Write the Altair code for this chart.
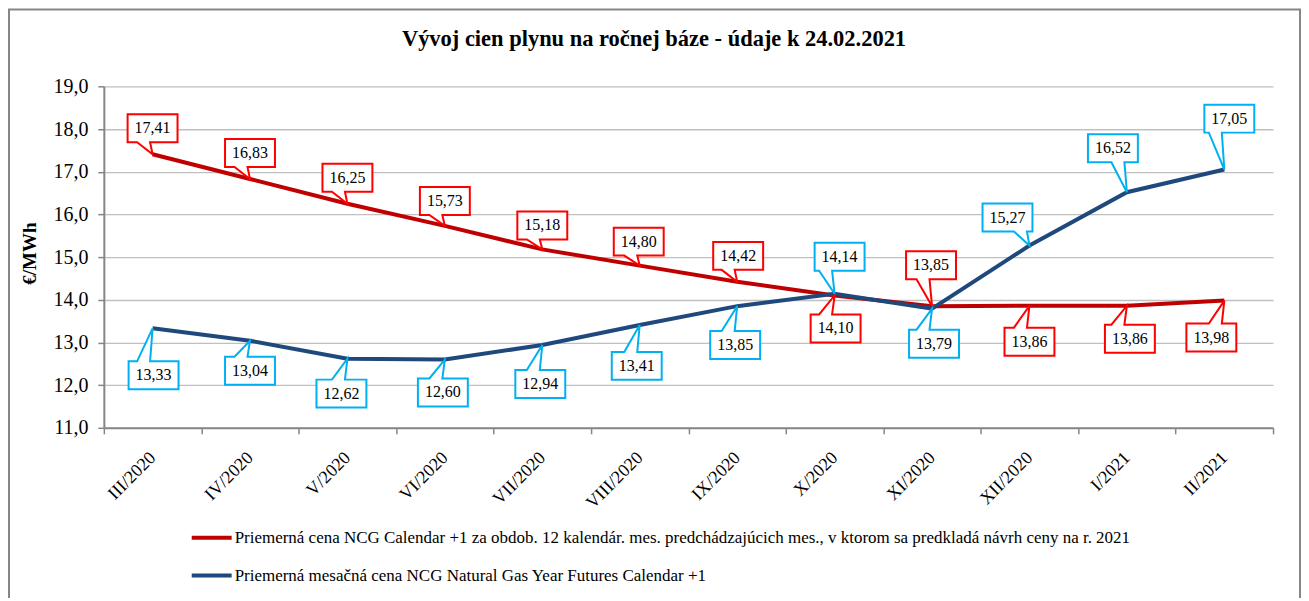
import altair as alt
import pandas as pd

# ---------------- data ----------------
months = ["III/2020", "IV/2020", "V/2020", "VI/2020", "VII/2020", "VIII/2020",
          "IX/2020", "X/2020", "XI/2020", "XII/2020", "I/2021", "II/2021"]
red_vals = [17.41, 16.83, 16.25, 15.73, 15.18, 14.80, 14.42, 14.10, 13.85, 13.86, 13.86, 13.98]
blue_vals = [13.33, 13.04, 12.62, 12.60, 12.94, 13.41, 13.85, 14.14, 13.79, 15.27, 16.52, 17.05]
red_name = ("Priemerná cena NCG Calendar +1 za obdob. 12 kalendár. mes. predchádzajúcich mes., "
            "v ktorom sa predkladá návrh ceny na r. 2021")
blue_name = "Priemerná mesačná cena NCG Natural Gas Year Futures Calendar +1"
y_ticks = [11, 12, 13, 14, 15, 16, 17, 18, 19]
TITLE = "Vývoj cien plynu na ročnej báze - údaje k 24.02.2021"
Y_TITLE = "€/MWh"

# callout box placement (pixel offset of box centre from its point) - layout only
red_off = [(0, -26), (0, -26), (0, -26), (0, -25), (0, -24), (-1, -24),
           (1, -26), (1, 33), (-1, -41), (0, 36), (3, 33), (-13, 37)]
blue_off = [(1, 47), (0, 30), (-6, 35), (-2, 33), (-2, 39), (-3, 41),
            (-2, 39), (5, -37), (2, 35), (-22, -28), (-14, -44), (5, -51)]

# ---------------- style ----------------
W, H = 1171, 342
FONT = "Liberation Serif"
RED_LINE, BLUE_LINE = "#C00000", "#1F497D"
RED_BOX, BLUE_BOX = "#FF0000", "#00B0F0"
AXIS_GREY = "#868686"
UNIT = 50.0  # custom symbol scale: sqrt(size)/2 with size 10000


def callout_path(dx, dy, hw=25, hh=14):
    tx = -dx
    bc = max(-hw + 8, min(hw - 8, tx - 9))
    b1, b2 = bc - 6.5, bc + 6.5
    if dy < 0:
        e = dy + hh
        pts = [(dx - hw, dy - hh), (dx + hw, dy - hh), (dx + hw, e), (dx + b2, e),
               (0, 0), (dx + b1, e), (dx - hw, e)]
    else:
        e = dy - hh
        pts = [(dx - hw, e), (dx + b1, e), (0, 0), (dx + b2, e), (dx + hw, e),
               (dx + hw, dy + hh), (dx - hw, dy + hh)]
    return "M" + " L".join(f"{x / UNIT:.4f},{y / UNIT:.4f}" for x, y in pts) + " Z"


rows = []
for name, vals, offs, box in [(red_name, red_vals, red_off, RED_BOX),
                              (blue_name, blue_vals, blue_off, BLUE_BOX)]:
    for i, (m, v, (dx, dy)) in enumerate(zip(months, vals, offs)):
        rows.append({"idx": i, "month": m, "series": name, "value": v,
                     "label": f"{v:.2f}".replace(".", ","),
                     "path": callout_path(dx, dy), "box": box, "dx": dx, "dy": dy})
df = pd.DataFrame(rows)

x_enc = alt.X("month:N", sort=months, bandPosition=0.5,
              scale=alt.Scale(type="band", paddingInner=0, paddingOuter=0),
              axis=alt.Axis(title=None, labelAngle=315, labelAlign="right", labelBaseline="middle",
                            labelFont=FONT, labelFontSize=18, labelColor="black", labelPadding=21,
                            tickBand="extent", tickSize=6, tickColor=AXIS_GREY, tickWidth=1.5,
                            domainColor=AXIS_GREY, domainWidth=2, grid=False))
y_enc = alt.Y("value:Q", scale=alt.Scale(domain=[11, 19], nice=False, zero=False),
              axis=alt.Axis(values=y_ticks,
                            labelExpr="replace(format(datum.value, '.1f'), '.', ',')",
                            labelFont=FONT, labelFontSize=20, labelColor="black", labelPadding=10,
                            tickSize=6, tickColor=AXIS_GREY, tickWidth=1.5,
                            domainColor=AXIS_GREY, domainWidth=2,
                            grid=True, gridColor="#C0C0C0", gridWidth=1.3,
                            title=Y_TITLE, titleFont=FONT, titleFontSize=19, titleFontWeight="bold",
                            titleColor="black", titleAngle=270, titleX=-74, titleY=167,
                            titleAlign="center", titleBaseline="middle"))

base = alt.Chart(df)

lines = base.mark_line(strokeWidth=4).encode(
    x=x_enc, y=y_enc,
    color=alt.Color("series:N",
                    scale=alt.Scale(domain=[red_name, blue_name], range=[RED_LINE, BLUE_LINE]),
                    legend=alt.Legend(title=None, orient="none", legendX=86, legendY=430,
                                      direction="vertical", symbolType="stroke",
                                      symbolStrokeWidth=4, symbolSize=1600,
                                      labelFont=FONT, labelFontSize=17, labelColor="black",
                                      labelLimit=2000, rowPadding=8, labelOffset=1, padding=0)),
)

callouts = base.mark_point(filled=True, fill="white", size=10000, strokeWidth=2,
                           opacity=1, fillOpacity=1, strokeOpacity=1).encode(
    x=x_enc, y=y_enc,
    shape=alt.Shape("path:N", scale=None),
    stroke=alt.Stroke("box:N", scale=None),
)

texts = []
for r in rows:
    texts.append(
        base.transform_filter((alt.datum.series == r["series"]) & (alt.datum.idx == r["idx"]))
        .mark_text(dx=r["dx"], dy=r["dy"], font=FONT, fontSize=16, color="black",
                   align="center", baseline="middle")
        .encode(x=x_enc, y=y_enc, text="label:N")
    )

title = alt.Chart(pd.DataFrame({"t": [TITLE]})).mark_text(
    font=FONT, fontSize=22.5, fontWeight="bold", color="black", align="center", baseline="middle"
).encode(x=alt.value(551), y=alt.value(-47), text="t:N")

border = alt.Chart(pd.DataFrame({"a": [0]})).mark_rect(
    fillOpacity=0, stroke=AXIS_GREY, strokeWidth=2
).encode(x=alt.value(-95), x2=alt.value(1198), y=alt.value(-77), y2=alt.value(520))

chart = alt.layer(border, title, lines, callouts, *texts).properties(
    width=W, height=H,
    autosize=alt.AutoSizeParams(type="none"),
    padding={"left": 96, "top": 78, "right": 28, "bottom": 170},
    background="white",
).configure_view(stroke=None)

chart.save("out.html", embed_options={"renderer": "svg", "actions": False})
